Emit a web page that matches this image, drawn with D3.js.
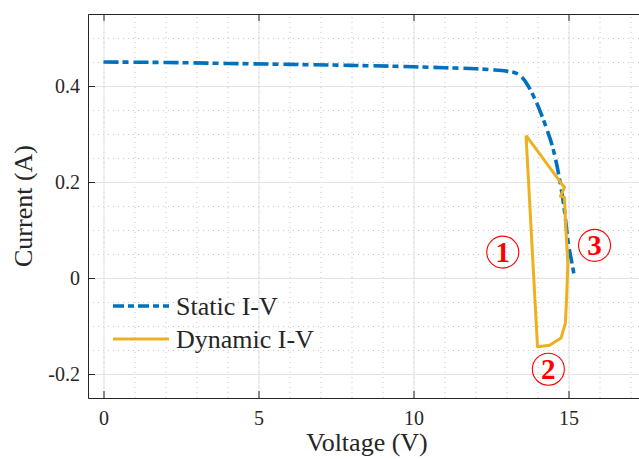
<!DOCTYPE html>
<html>
<head>
<meta charset="utf-8">
<script src="https://cdn.jsdelivr.net/npm/d3@7"></script>
<style>
  body { margin: 0; background: #fff; }
  svg text { font-family: "Liberation Serif", "Times New Roman", serif; fill: #262626; }
</style>
</head>
<body>
<div id="chart"></div>
<script>
// static I-V curve
const staticV = [0, 2, 4, 6, 8, 10, 11, 12, 12.5, 13, 13.3, 13.5, 13.7, 13.9, 14.1, 14.3, 14.5, 14.7, 14.85, 15.0, 15.1, 15.19];
const staticI = [0.45, 0.449, 0.447, 0.445, 0.443, 0.44, 0.438, 0.436, 0.434, 0.431, 0.427, 0.418, 0.40, 0.375, 0.345, 0.31, 0.27, 0.21, 0.15, 0.07, 0.035, 0.003];

// dynamic I-V loop
const dynV = [13.63, 14.77, 14.87, 14.74, 14.87, 14.9, 14.98, 14.94, 14.9, 14.76, 14.39, 14.0, 13.63];
const dynI = [0.297, 0.197, 0.189, 0.17, 0.168, 0.12, 0.03, -0.04, -0.094, -0.125, -0.14, -0.143, 0.297];

// circled markers
const markLabels = ['1', '2', '3'];
const markV = [12.88, 14.35, 15.84];
const markI = [0.054, -0.19, 0.068];

const xTicks = [0, 5, 10, 15];
const yTicks = [-0.2, 0, 0.2, 0.4];
const yTickLabels = ['-0.2', '0', '0.2', '0.4'];
const seriesNames = ['Static I-V', 'Dynamic I-V'];

(function(){
    const margin = { top: 14, right: 0, bottom: 61, left: 88 };
    const W = 639, H = 459;
    const width = 558;
    const height = H - margin.top - margin.bottom;

    const svg = d3.select('#chart')
        .append('svg')
            .attr('width', W)
            .attr('height', H)
        .append('g')
            .attr('transform', `translate(${margin.left}, ${margin.top})`);

    const xScale = d3.scaleLinear().domain([-0.5, 17.5]).range([0, width]);
    const yScale = d3.scaleLinear().domain([-0.25, 0.55]).range([height, 0]);

    // minor grid
    svg.append('g')
        .attr('transform', `translate(0, ${height})`)
        .call(d3.axisBottom(xScale).tickValues(d3.range(0, 18, 1)).tickSize(-height).tickFormat(''))
        .call(g => g.select('.domain').remove())
        .call(g => g.selectAll('line').attr('stroke', '#c8c8c8').attr('stroke-dasharray', '1,4'));
    svg.append('g')
        .call(d3.axisLeft(yScale).tickValues(d3.range(-0.25, 0.551, 0.05)).tickSize(-width).tickFormat(''))
        .call(g => g.select('.domain').remove())
        .call(g => g.selectAll('line').attr('stroke', '#c8c8c8').attr('stroke-dasharray', '1,4'));

    // major grid
    svg.append('g')
        .attr('transform', `translate(0, ${height})`)
        .call(d3.axisBottom(xScale).tickValues(xTicks).tickSize(-height).tickFormat(''))
        .call(g => g.select('.domain').remove())
        .call(g => g.selectAll('line').attr('stroke', '#e3e3e3'));
    svg.append('g')
        .call(d3.axisLeft(yScale).tickValues(yTicks).tickSize(-width).tickFormat(''))
        .call(g => g.select('.domain').remove())
        .call(g => g.selectAll('line').attr('stroke', '#e3e3e3'));

    // axes box with inward ticks
    const xAxis = svg.append('g')
        .attr('transform', `translate(0, ${height})`)
        .call(d3.axisBottom(xScale).tickValues(xTicks).tickSizeInner(-7).tickSizeOuter(0).tickPadding(13));
    const xTop = svg.append('g')
        .call(d3.axisTop(xScale).tickValues(xTicks).tickSizeInner(-7).tickSizeOuter(0).tickFormat(''));
    const yAxis = svg.append('g')
        .call(d3.axisLeft(yScale).tickValues(yTicks).tickSizeInner(-7).tickSizeOuter(0).tickPadding(8)
            .tickFormat((d, i) => yTickLabels[i]));
    [xAxis, xTop, yAxis].forEach(g => {
        g.attr('font-family', null).attr('font-size', null);
        g.select('.domain').attr('stroke', '#262626');
        g.selectAll('line').attr('stroke', '#262626');
        g.selectAll('text').attr('font-size', 20).attr('fill', '#262626');
    });

    const line = d3.line()
        .x(d => xScale(d[0]))
        .y(d => yScale(d[1]));

    svg.append('path')
        .datum(staticV.map((v, i) => [v, staticI[i]]))
        .attr('d', line.curve(d3.curveMonotoneX))
        .attr('fill', 'none')
        .attr('stroke', '#0072BD')
        .attr('stroke-width', 3.6)
        .attr('stroke-dasharray', '15,4,6,5');

    svg.append('path')
        .datum(dynV.map((v, i) => [v, dynI[i]]))
        .attr('d', line.curve(d3.curveLinear))
        .attr('fill', 'none')
        .attr('stroke', '#EDB120')
        .attr('stroke-width', 3)
        .attr('stroke-linejoin', 'round');

    // circled labels
    const marks = svg.selectAll('.mark')
        .data(markLabels)
        .enter()
        .append('g')
            .attr('class', 'mark')
            .attr('transform', (d, i) => `translate(${xScale(markV[i])}, ${yScale(markI[i])})`);
    marks.append('circle')
        .attr('r', 16)
        .attr('fill', 'none')
        .attr('stroke', '#ff0000')
        .attr('stroke-width', 1.1);
    marks.append('text')
        .attr('text-anchor', 'middle')
        .attr('dy', '0.34em')
        .attr('font-size', 29)
        .attr('font-weight', 'bold')
        .style('fill', '#ff0000')
        .text(d => d);

    // legend
    const legend = svg.append('g').attr('transform', 'translate(25, 0)');
    const legendY = [292, 325];
    const legendColor = ['#0072BD', '#EDB120'];
    seriesNames.forEach((name, i) => {
        legend.append('line')
            .attr('x1', 0).attr('x2', 56)
            .attr('y1', legendY[i]).attr('y2', legendY[i])
            .attr('stroke', legendColor[i])
            .attr('stroke-width', i === 0 ? 3.6 : 3)
            .attr('stroke-dasharray', i === 0 ? '11,4,6,4' : null);
        legend.append('text')
            .attr('x', 63)
            .attr('y', legendY[i])
            .attr('dy', '0.35em')
            .attr('font-size', 26)
            .text(name);
    });

    // axis labels
    svg.append('text')
        .attr('x', xScale(8.5))
        .attr('y', height + 53)
        .attr('text-anchor', 'middle')
        .attr('font-size', 26)
        .text('Voltage (V)');

    svg.append('text')
        .attr('transform', `translate(${-56}, ${height / 2}) rotate(-90)`)
        .attr('text-anchor', 'middle')
        .attr('font-size', 26)
        .text('Current (A)');
}())
</script>
</body>
</html>
